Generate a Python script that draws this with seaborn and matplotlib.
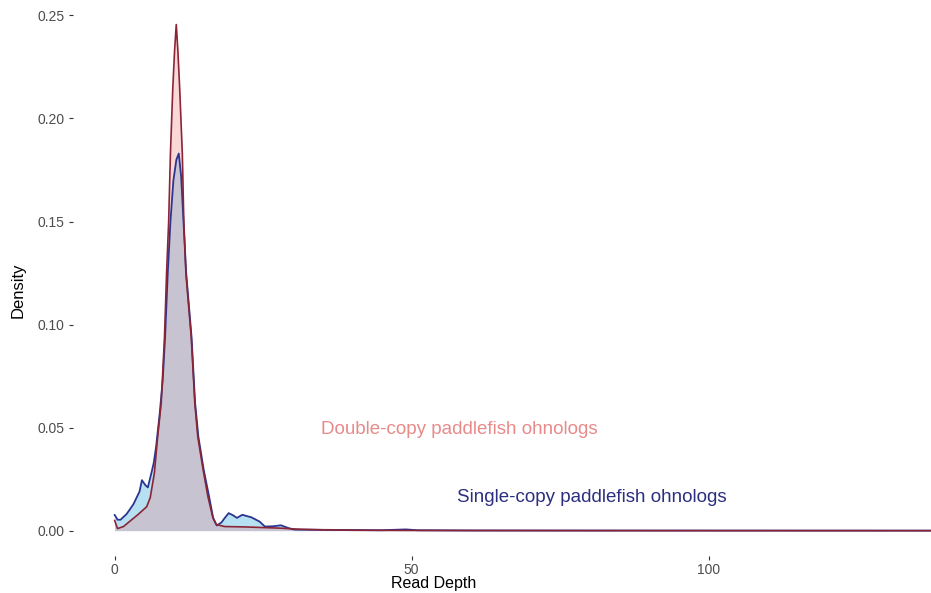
import numpy as np
import pandas as pd
import matplotlib
matplotlib.use("Agg")
import matplotlib.pyplot as plt
import seaborn as sns

# ---- data ----
double_x = [0, 0.5, 1.5, 2.5, 3.9, 5.4, 6.0, 6.7, 7.25, 7.85, 8.4, 8.75, 9.1, 9.4,
            9.8, 10.1, 10.38, 10.65, 10.95, 11.4, 11.65, 12.0, 12.9, 13.5, 14.0,
            14.9, 15.7, 16.5, 17.1, 18.5, 22, 25, 28, 31, 35, 40, 50, 60, 80, 100,
            120, 137.4]
double_y = [0.005, 0.001, 0.002, 0.0044, 0.0077, 0.0116, 0.016, 0.028, 0.0456,
            0.062, 0.094, 0.125, 0.150, 0.183, 0.215, 0.233, 0.2456, 0.233, 0.215,
            0.183, 0.150, 0.125, 0.094, 0.062, 0.0456, 0.0295, 0.0166, 0.0068,
            0.003, 0.002, 0.0018, 0.0015, 0.0012, 0.0007, 0.0004, 0.0002, 0.0001,
            0.00005, 0.00003, 0.00002, 0.00001, 0.0]

single_x = [0, 0.5, 1.0, 2.0, 2.5, 3.2, 4.2, 4.6, 5.2, 5.6, 6.2, 6.6, 7.0, 7.6,
            8.1, 8.5, 8.95, 9.4, 9.9, 10.4, 10.8, 11.2, 11.6, 12.05, 12.95, 13.55,
            14.1, 15.0, 15.9, 16.6, 17.2, 18.0, 18.5, 19.2, 19.9, 20.6, 21.5, 22.1,
            23.0, 24.4, 25.3, 26.6, 28.0, 29.3, 30.3, 35, 40, 45, 49, 51, 60, 80,
            100, 120, 137.4]
single_y = [0.0077, 0.0053, 0.0053, 0.008, 0.010, 0.013, 0.019, 0.0245, 0.022,
            0.021, 0.028, 0.033, 0.041, 0.057, 0.073, 0.094, 0.125, 0.150, 0.170,
            0.180, 0.183, 0.172, 0.150, 0.125, 0.094, 0.062, 0.0456, 0.0295,
            0.0166, 0.006, 0.0025, 0.004, 0.006, 0.0085, 0.0075, 0.0062, 0.0077,
            0.0072, 0.0065, 0.0044, 0.002, 0.0021, 0.0026, 0.0012, 0.0005, 0.0004,
            0.0003, 0.0002, 0.0006, 0.0002, 0.0001, 0.00005, 0.00003, 0.00002,
            0.00001]

x_ticks = [0, 50, 100]
y_ticks = [0.00, 0.05, 0.10, 0.15, 0.20, 0.25]
label_double = "Double-copy paddlefish ohnologs"
label_single = "Single-copy paddlefish ohnologs"

# ---- styling ----
sns.set_theme(style="white")
plt.rcParams['font.family'] = ['Liberation Sans', 'DejaVu Sans']

fig = plt.figure(figsize=(9.31, 5.93), dpi=100)
ax = fig.add_axes([0.0784, 0.0624, 0.9216, 0.9376])

df_s = pd.DataFrame({"x": single_x, "y": single_y})
df_d = pd.DataFrame({"x": double_x, "y": double_y})

ax.fill_between(df_s["x"], df_s["y"], color="#87CEEB", alpha=0.6, linewidth=0, zorder=1)
ax.fill_between(df_d["x"], df_d["y"], color="#F08080", alpha=0.3, linewidth=0, zorder=2)
sns.lineplot(data=df_s, x="x", y="y", ax=ax, color="#2A3590", linewidth=1.3,
             sort=False, zorder=3)
sns.lineplot(data=df_d, x="x", y="y", ax=ax, color="#8B2535", linewidth=1.2,
             sort=False, zorder=4)

ax.text(58.1, 0.0493, label_double, color="#E88A8A", fontsize=13.5,
        ha="center", va="center")
ax.text(80.3, 0.0160, label_single, color="#2B2F7E", fontsize=13.5,
        ha="center", va="center")

ax.set_xlim(-7.0, 137.4)
ax.set_ylim(-0.0123, 0.2575)
ax.set_xticks(x_ticks)
ax.set_yticks(y_ticks)
ax.set_yticklabels([f"{v:.2f}" for v in y_ticks])
ax.set_xticklabels([str(v) for v in x_ticks])
for s in ax.spines.values():
    s.set_visible(False)
ax.tick_params(axis="both", which="both", length=3, width=0.8, color="#333333",
               labelcolor="#4D4D4D", labelsize=10, pad=3, bottom=True, left=True)
ax.tick_params(axis="x", pad=2)
ax.set_xlabel("Read Depth", fontsize=11.5, color="black")
ax.set_ylabel("Density", fontsize=12, color="black")
ax.xaxis.set_label_coords((434 - 73) / 858, -(576 - 556) / 556)
ax.yaxis.set_label_coords(-(73 - 26) / 858, (593 - 290 - 37) / 556)
ax.grid(False)

fig.savefig("out.png", dpi=100)
